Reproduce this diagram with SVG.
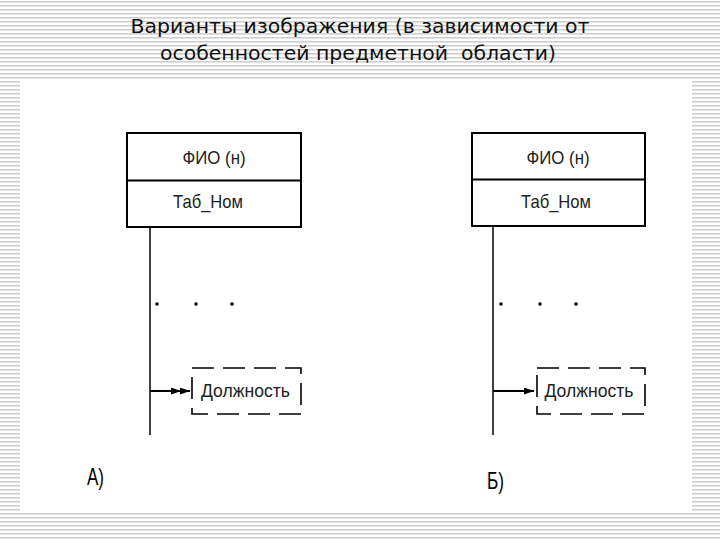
<svg xmlns="http://www.w3.org/2000/svg" width="720" height="540" viewBox="0 0 720 540">
<defs>
<pattern id="stripes" width="8" height="4" patternUnits="userSpaceOnUse">
<rect width="8" height="4" fill="#ffffff"/>
<rect y="1" width="8" height="1.6" fill="#cfcfcf"/>
</pattern>
<marker id="tri" markerWidth="10" markerHeight="7" refX="10" refY="3.5" orient="auto" markerUnits="userSpaceOnUse">
<path d="M0,0 L10,3.5 L0,7 Z" fill="#000"/>
</marker>
</defs>
<style>
.title{font-family:"DejaVu Sans",sans-serif;font-size:20px;fill:#111;text-anchor:middle}
.ent{fill:#fff;stroke:#000;stroke-width:2}
.div{stroke:#000;stroke-width:2}
.lbl{font-family:"Liberation Sans",Arial,sans-serif;font-size:19px;fill:#222;text-anchor:middle}
.dash{fill:none;stroke:#000;stroke-width:1.6;stroke-dasharray:22 9}
.line{stroke:#000;stroke-width:1.5;fill:none}
.conn{stroke:#000;stroke-width:2;fill:none}
.dot{fill:#000}
.cap{font-family:"Liberation Sans",Arial,sans-serif;font-size:24px;fill:#000}
</style>
<rect width="720" height="540" fill="url(#stripes)"/>
<rect x="20" y="80" width="672" height="431" fill="#fff"/>
<text class="title" x="360" y="33" textLength="459" lengthAdjust="spacingAndGlyphs">Варианты изображения (в зависимости от</text>
<text class="title" x="358" y="60" textLength="396" lengthAdjust="spacingAndGlyphs" xml:space="preserve">особенностей предметной  области)</text>

<g id="entityA">
<rect class="ent" x="127" y="133" width="174" height="94"/>
<line class="div" x1="127" y1="180.5" x2="301" y2="180.5"/>
<text class="lbl" x="214" y="164" textLength="63" lengthAdjust="spacingAndGlyphs">ФИО (н)</text>
<text class="lbl" x="208" y="208" textLength="70" lengthAdjust="spacingAndGlyphs">Таб_Ном</text>
</g>
<g id="attrA">
<rect class="dash" x="192" y="368" width="109" height="46"/>
<text class="lbl" x="245.5" y="397" textLength="89" lengthAdjust="spacingAndGlyphs">Должность</text>
</g>
<g id="entityB">
<rect class="ent" x="472" y="133" width="173" height="93"/>
<line class="div" x1="472" y1="179.5" x2="645" y2="179.5"/>
<text class="lbl" x="558" y="164" textLength="63" lengthAdjust="spacingAndGlyphs">ФИО (н)</text>
<text class="lbl" x="556" y="208" textLength="70" lengthAdjust="spacingAndGlyphs">Таб_Ном</text>
</g>
<g id="attrB">
<rect class="dash" x="537" y="368" width="108" height="46"/>
<text class="lbl" x="589" y="397" textLength="89" lengthAdjust="spacingAndGlyphs">Должность</text>
</g>

<g id="connectors">
<line class="line" x1="150" y1="227" x2="150" y2="435"/>
<path class="conn" d="M150,391 L181,391" marker-end="url(#tri)"/>
<path class="conn" d="M181,391 L190,391" marker-end="url(#tri)"/>
<line class="line" x1="493" y1="226" x2="493" y2="435"/>
<path class="conn" d="M493,391 L534,391" marker-end="url(#tri)"/>
<rect class="dot" x="155.5" y="302.5" width="3" height="3"/>
<rect class="dot" x="194.5" y="302.5" width="3" height="3"/>
<rect class="dot" x="230.5" y="302.5" width="3" height="3"/>
<rect class="dot" x="499.5" y="302.5" width="3" height="3"/>
<rect class="dot" x="538.5" y="302.5" width="3" height="3"/>
<rect class="dot" x="574.5" y="302.5" width="3" height="3"/>
</g>

<text class="cap" x="87" y="485" textLength="17" lengthAdjust="spacingAndGlyphs">А)</text>
<text class="cap" x="487" y="489" textLength="17" lengthAdjust="spacingAndGlyphs">Б)</text>
</svg>
